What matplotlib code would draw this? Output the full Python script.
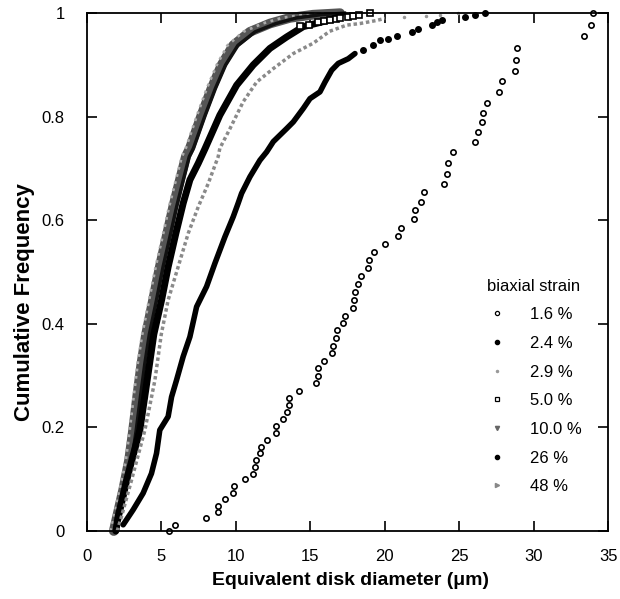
import matplotlib
matplotlib.use("Agg")
import matplotlib.pyplot as plt
from matplotlib.lines import Line2D

plt.rcParams['font.family'] = ['Liberation Sans', 'DejaVu Sans']

# 1.6 % biaxial strain (open circles)
d16 = [5.51, 5.91, 7.99, 8.78, 8.82, 9.25, 9.81, 9.85, 10.59, 11.17,
       11.26, 11.33, 11.62, 11.71, 12.11, 12.70, 12.70, 13.14, 13.43, 13.55,
       13.55, 14.24, 15.36, 15.52, 15.52, 15.90, 16.44, 16.55, 16.73, 16.82,
       17.22, 17.31, 17.87, 17.92, 18.02, 18.23, 18.43, 18.88, 18.97, 19.26,
       20.02, 20.89, 21.09, 21.95, 22.03, 22.42, 22.64, 23.96, 24.18, 24.27,
       24.57, 26.06, 26.25, 26.53, 26.58, 26.87, 27.68, 27.86, 28.75, 28.80,
       28.86, 33.39, 33.84, 33.95]
f16 = [0.0, 0.012, 0.0245, 0.036, 0.049, 0.062, 0.073, 0.086, 0.10, 0.111,
       0.124, 0.137, 0.15, 0.163, 0.176, 0.189, 0.203, 0.216, 0.229, 0.243,
       0.257, 0.271, 0.285, 0.300, 0.315, 0.329, 0.343, 0.358, 0.373, 0.388,
       0.402, 0.416, 0.430, 0.446, 0.462, 0.477, 0.492, 0.507, 0.524, 0.539,
       0.554, 0.570, 0.586, 0.602, 0.619, 0.636, 0.654, 0.671, 0.690, 0.710,
       0.731, 0.751, 0.771, 0.790, 0.808, 0.827, 0.848, 0.869, 0.889, 0.910,
       0.933, 0.955, 0.977, 1.0]

# 2.4 % (filled dots) - dense part and sparse upper tail
d24 = [2.44, 3.11, 3.78, 4.34, 4.68, 4.90, 5.46, 5.69, 6.02, 6.47,
       6.92, 7.37, 8.04, 8.60, 9.27, 9.83, 10.16, 10.39, 10.95, 11.62,
       12.07, 12.52, 13.41, 13.86, 14.53, 14.98, 15.65, 15.99, 16.44, 16.88,
       17.55, 18.00]
f24 = [0.012, 0.041, 0.073, 0.111, 0.150, 0.195, 0.221, 0.259, 0.291, 0.337,
       0.375, 0.433, 0.472, 0.517, 0.568, 0.607, 0.633, 0.652, 0.684, 0.716,
       0.732, 0.752, 0.777, 0.790, 0.816, 0.835, 0.848, 0.867, 0.890, 0.903,
       0.912, 0.922]
d24_tail = [18.56, 19.23, 19.68, 20.24, 20.80, 21.81, 22.26, 23.16, 23.49,
            23.83, 25.39, 26.06, 26.74]
f24_tail = [0.929, 0.938, 0.948, 0.951, 0.956, 0.963, 0.970, 0.977, 0.983,
            0.986, 0.993, 0.996, 1.0]

# 2.9 % (small grey marks)
d29 = [2.04, 2.33, 3.00, 3.90, 4.57, 5.00, 5.46, 6.13, 6.81, 7.48,
       8.15, 8.82, 8.93, 9.61, 10.50, 11.40, 12.52, 13.86, 15.20, 16.30,
       17.45, 18.34, 19.46, 20.02]
f29 = [0.0, 0.028, 0.098, 0.195, 0.291, 0.380, 0.446, 0.510, 0.575, 0.626,
       0.671, 0.723, 0.739, 0.777, 0.829, 0.867, 0.893, 0.922, 0.942, 0.965,
       0.977, 0.980, 0.986, 0.990]
d29_tail = [21.3, 22.8, 23.7, 24.9]
f29_tail = [0.993, 0.995, 0.996, 1.0]

# 5.0 % (open squares)
d50 = [1.95, 2.10, 2.67, 3.56, 4.05, 4.50, 5.02, 5.46, 5.98, 6.47,
       6.92, 7.48, 7.93, 8.93, 10.06, 11.17, 12.29, 13.41, 14.53, 15.77,
       16.77]
f50 = [0.0, 0.028, 0.098, 0.195, 0.291, 0.380, 0.446, 0.510, 0.575, 0.633,
       0.678, 0.710, 0.738, 0.803, 0.861, 0.900, 0.932, 0.954, 0.974, 0.983,
       0.991]
d50_tail = [14.3, 14.9, 15.5, 15.9, 16.3, 16.7, 17.0, 17.5, 17.9, 18.3, 19.0]
f50_tail = [0.975, 0.977, 0.983, 0.985, 0.987, 0.989, 0.991, 0.993, 0.995,
            0.997, 1.0]

# 10.0 %, 26 %, 48 % (overlapping leftmost band)
d10 = [1.81, 2.44, 2.84, 3.11, 3.38, 3.67, 3.98, 4.45, 4.90, 5.35,
       5.80, 6.25, 6.65, 6.92, 7.70, 8.38, 9.05, 9.83, 10.95, 12.29,
       13.64, 15.18, 17.0]
f10 = [0.0, 0.079, 0.137, 0.195, 0.259, 0.324, 0.380, 0.446, 0.510, 0.568,
       0.626, 0.678, 0.723, 0.739, 0.803, 0.855, 0.900, 0.938, 0.964, 0.980,
       0.991, 0.997, 1.0]
d26 = [1.95, 2.62, 3.02, 3.32, 3.60, 3.90, 4.20, 4.68, 5.12, 5.58,
       6.03, 6.48, 6.88, 7.16, 7.95, 8.64, 9.32, 10.15, 11.3, 12.7,
       14.1, 15.7, 17.3]
f26 = f10
d48 = [1.60, 2.22, 2.62, 2.88, 3.14, 3.42, 3.72, 4.18, 4.62, 5.08,
       5.52, 5.98, 6.38, 6.64, 7.40, 8.06, 8.72, 9.45, 10.5, 11.8,
       13.1, 14.6, 16.2]
f48 = f10

labels = ['1.6 %', '2.4 %', '2.9 %', '5.0 %', '10.0 %', '26 %', '48 %']
xticks = [0, 5, 10, 15, 20, 25, 30, 35]
yticks = [0, 0.2, 0.4, 0.6, 0.8, 1.0]
ytick_labels = ['0', '0.2', '0.4', '0.6', '0.8', '1']

fig = plt.figure(figsize=(6.2, 5.99), dpi=100)
ax = fig.add_axes([0.140, 0.1135, 0.841, 0.8645])

# leftmost band
ax.plot(d10, f10, '-', color='#555555', lw=7, solid_capstyle='round', clip_on=False)
ax.plot(d48, f48, ':', color='#aaaaaa', lw=2.0, clip_on=False)
ax.plot(d26, f26, '-', color='#111111', lw=2.5, clip_on=False)
# 5.0 %
ax.plot(d50, f50, '-', color='black', lw=5, solid_capstyle='round', clip_on=False)
ax.plot(d50_tail, f50_tail, 's', ms=4, mfc='white', mec='black', mew=1.2, ls='none', clip_on=False)
# 2.9 %
ax.plot(d29, f29, color='#8a8a8a', lw=2.5, dashes=(1, 0.8), clip_on=False)
ax.plot(d29_tail, f29_tail, '.', color='#999999', ms=3, ls='none', clip_on=False)
# 2.4 %
ax.plot(d24, f24, '-', color='black', lw=4, solid_capstyle='round', clip_on=False)
ax.plot(d24_tail, f24_tail, 'o', color='black', ms=4, ls='none', clip_on=False)
# 1.6 %
ax.plot(d16, f16, 'o', ms=3.8, mfc='white', mec='black', mew=1.2, ls='none', clip_on=False)

ax.set_xlim(0, 35)
ax.set_ylim(0, 1)
ax.set_xticks(xticks)
ax.set_yticks(yticks)
ax.set_yticklabels(ytick_labels)
ax.tick_params(direction='in', length=7, width=1.2, top=True, right=True,
               labelsize=12)
ax.tick_params(axis='x', pad=13)
ax.tick_params(axis='y', pad=16)
for s in ax.spines.values():
    s.set_linewidth(1.3)

ax.set_xlabel('Equivalent disk diameter (\u03bcm)', fontsize=14, fontweight='bold')
ax.set_ylabel('Cumulative Frequency', fontsize=16, fontweight='bold')
ax.xaxis.set_label_coords(0.505, -0.08)
ax.yaxis.set_label_coords(-0.100, 0.442)

handles = [
    Line2D([], [], ls='none', marker='o', ms=3, mfc='white', mec='black', mew=0.9),
    Line2D([], [], ls='none', marker='o', ms=3, color='black'),
    Line2D([], [], ls='none', marker='.', ms=3, color='#999999'),
    Line2D([], [], ls='none', marker='s', ms=3, mfc='white', mec='black', mew=0.9),
    Line2D([], [], ls='none', marker='v', ms=3, color='#666666'),
    Line2D([], [], ls='none', marker='o', ms=3, color='black'),
    Line2D([], [], ls='none', marker='>', ms=3, color='#888888'),
]
leg = ax.legend(handles, labels, title='biaxial strain', frameon=False,
                loc='lower right', bbox_to_anchor=(0.978, 0.042),
                fontsize=12, title_fontsize=12, labelspacing=0.82,
                handletextpad=1.2, handlelength=1.5)

fig.savefig('out.png', dpi=100)
